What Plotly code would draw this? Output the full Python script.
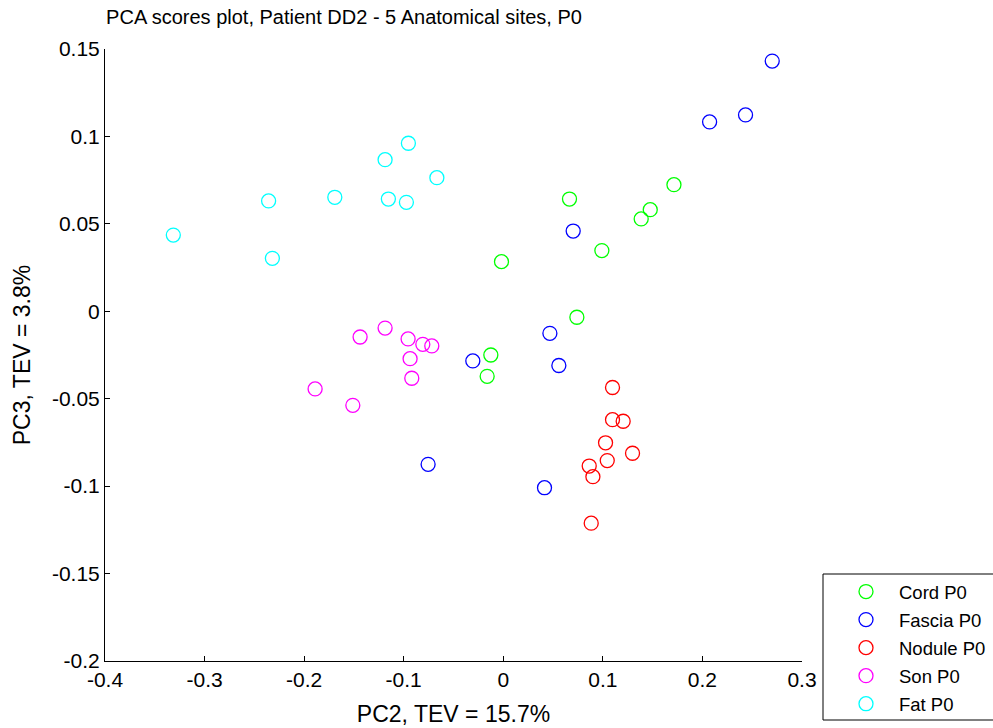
import plotly.graph_objects as go

# ---- data ----
cord_x = [0.1714, 0.0665, 0.1476, 0.1385, 0.0990, -0.0018, 0.0739, -0.0125, -0.0162]
cord_y = [0.0724, 0.0642, 0.0581, 0.0528, 0.0347, 0.0284, -0.0034, -0.0250, -0.0372]

fascia_x = [0.2701, 0.2433, 0.2072, 0.0702, 0.0468, 0.0558, -0.0306, -0.0755, 0.0414]
fascia_y = [0.1431, 0.1123, 0.1083, 0.0459, -0.0126, -0.0310, -0.0284, -0.0875, -0.1009]

nodule_x = [0.1097, 0.1097, 0.1204, 0.1027, 0.1298, 0.1044, 0.0863, 0.0900, 0.0883]
nodule_y = [-0.0436, -0.0620, -0.0629, -0.0752, -0.0812, -0.0854, -0.0885, -0.0946, -0.1212]

son_x = [-0.1187, -0.1438, -0.0956, -0.0808, -0.0718, -0.0936, -0.0919, -0.1890, -0.1511]
son_y = [-0.0096, -0.0147, -0.0158, -0.0189, -0.0198, -0.0271, -0.0383, -0.0444, -0.0538]

fat_x = [-0.0953, -0.1187, -0.0667, -0.2357, -0.1692, -0.1154, -0.0973, -0.3314, -0.2319]
fat_y = [0.0961, 0.0867, 0.0764, 0.0631, 0.0652, 0.0642, 0.0623, 0.0436, 0.0303]

series_names = ["Cord P0", "Fascia P0", "Nodule P0", "Son P0", "Fat P0"]
series_colors = ["#00ff00", "#0000ff", "#ff0000", "#ff00ff", "#00ffff"]
series_data = [(cord_x, cord_y), (fascia_x, fascia_y), (nodule_x, nodule_y),
               (son_x, son_y), (fat_x, fat_y)]

x_ticks = [-0.4, -0.3, -0.2, -0.1, 0, 0.1, 0.2, 0.3]
x_ticklabels = ["-0.4", "-0.3", "-0.2", "-0.1", "0", "0.1", "0.2", "0.3"]
y_ticks = [-0.2, -0.15, -0.1, -0.05, 0, 0.05, 0.1, 0.15]
y_ticklabels = ["-0.2", "-0.15", "-0.1", "-0.05", "0", "0.05", "0.1", "0.15"]

FONT = "Liberation Sans, Arial, sans-serif"

fig = go.Figure()
for i, (name, color, (xs, ys)) in enumerate(zip(series_names, series_colors, series_data)):
    fig.add_trace(go.Scatter(
        x=xs, y=ys, mode="markers", name=name, legendgroup=f"g{i}",
        marker=dict(symbol="circle-open", size=14, color=color,
                    line=dict(width=1.3, color=color)),
    ))

fig.update_layout(
    width=993, height=728,
    margin=dict(l=105, r=191, t=49, b=67, autoexpand=False),
    paper_bgcolor="white", plot_bgcolor="white",
    font=dict(family=FONT, size=21, color="black"),
    title=dict(text="PCA scores plot, Patient DD2 - 5 Anatomical sites, P0",
               xref="container", x=344 / 993, xanchor="center",
               yref="container", y=1 - 17 / 728, yanchor="middle",
               font=dict(family=FONT, size=20, color="black")),
    xaxis=dict(range=[-0.4, 0.3], tickvals=x_ticks, ticktext=x_ticklabels,
               showgrid=False, zeroline=False, showline=True, linecolor="black", linewidth=1,
               ticks="inside", ticklen=5, tickcolor="black", mirror=False,
               tickfont=dict(size=21),
               title=dict(text="PC2, TEV = 15.7%", standoff=15, font=dict(size=23))),
    yaxis=dict(range=[-0.2, 0.15], tickvals=y_ticks, ticktext=y_ticklabels,
               showgrid=False, zeroline=False, showline=True, linecolor="black", linewidth=1,
               ticks="inside", ticklen=5, tickcolor="black", mirror=False,
               tickfont=dict(size=21),
               title=dict(text="PC3, TEV = 3.8%", standoff=14, font=dict(size=23))),
    legend=dict(x=(833 - 105) / 697, xanchor="left", y=(661 - 573) / 612, yanchor="top",
                bgcolor="rgba(0,0,0,0)", borderwidth=0, tracegroupgap=1, itemwidth=56,
                font=dict(family=FONT, size=18.5, color="black")),
    shapes=[dict(type="rect", xref="paper", yref="paper",
                 x0=(823 - 105) / 697, x1=(1005 - 105) / 697,
                 y0=(661 - 720) / 612, y1=(661 - 574) / 612,
                 line=dict(color="black", width=1), fillcolor="rgba(0,0,0,0)", layer="below")],
)

fig.write_html("out.html")
